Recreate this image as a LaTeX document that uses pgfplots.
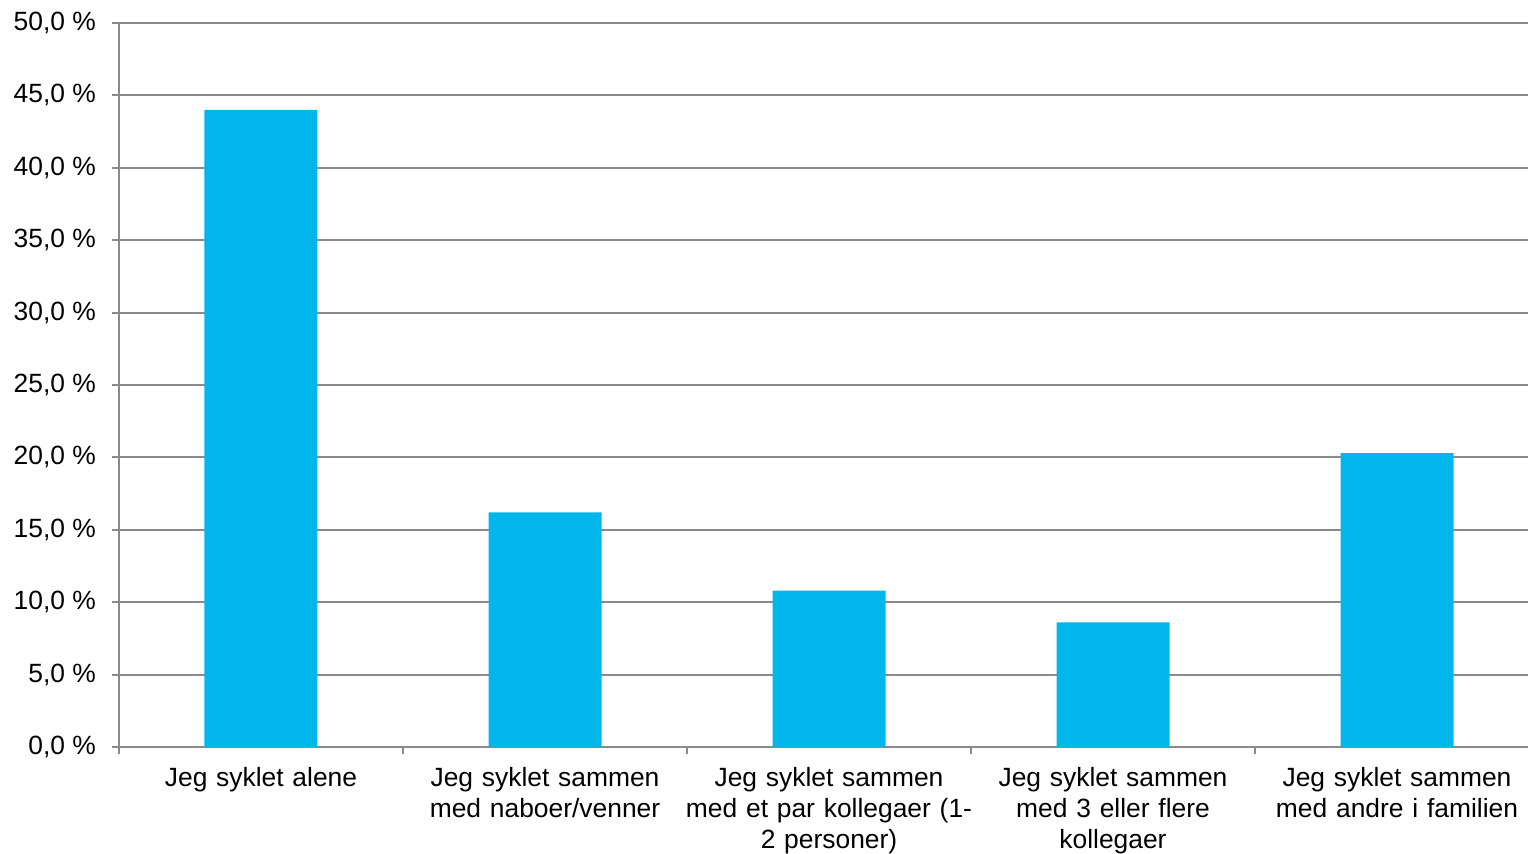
\documentclass[border=0pt]{standalone}
\usepackage{fontspec}
\setmainfont{Liberation Sans}
\usepackage{pgfplots}
\pgfplotsset{compat=1.18}
\definecolor{barblue}{RGB}{0,182,234}
\definecolor{gridgray}{RGB}{138,138,138}
\begin{document}
\begin{tikzpicture}
\begin{axis}[
  at={(0,0)}, anchor=south west,
  scale only axis,
  width=710pt, height=362pt,
  xmin=-0.5, xmax=4.5,
  ymin=0, ymax=50,
  axis x line=bottom, axis y line=left,
  axis line style={gridgray, line width=1pt, -},
  ytick={0,5,...,50},
  ymajorgrids,
  grid style={gridgray, line width=1pt},
  ytick style={gridgray, line width=1pt},
  tick align=outside,
  major tick length=3.5pt,
  yticklabel={\pgfmathprintnumber[fixed,fixed zerofill,precision=1,use comma,assume math mode=true]{\tick} \%},
  yticklabel style={font=\fontsize{13.2}{15}\selectfont, xshift=-4.5pt},
  xtick={0,...,4},
  xtick style={draw=none},
  xticklabels={
    {Jeg syklet alene},
    {Jeg syklet sammen\\med naboer/venner},
    {Jeg syklet sammen\\med et par kollegaer (1-\\2 personer)},
    {Jeg syklet sammen\\med 3 eller flere\\kollegaer},
    {Jeg syklet sammen\\med andre i familien}},
  xticklabel style={font=\fontsize{13.2}{15.5}\selectfont, align=center, text width=150pt, yshift=-3pt},
  extra x ticks={-0.5,0.5,1.5,2.5,3.5,4.5},
  extra x tick labels={},
  extra x tick style={major tick length=3.5pt, xtick style={draw=gridgray, line width=1pt}, grid=none},
  clip=false,
]
\addplot[ybar, bar width=56.5pt, fill=barblue, draw=none] coordinates {
  (0,44.0) (1,16.2) (2,10.8) (3,8.6) (4,20.3)
};
\end{axis}
\pgfresetboundingbox
\path (-59.5pt,-53pt) rectangle (704.5pt,373.5pt);
\end{tikzpicture}
\end{document}
